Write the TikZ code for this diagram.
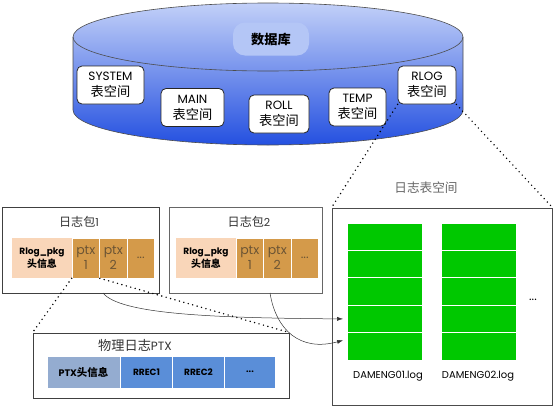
\documentclass[tikz,border=0pt]{standalone}
\usepackage{fontspec}
\setmainfont{Poppins}
\newfontfamily\cjk{Noto Sans CJK SC}[Scale=1.1]
\usetikzlibrary{arrows.meta,calc}
\definecolor{cylTop}{HTML}{C2D0F8}
\definecolor{cylBot}{HTML}{2450E0}
\definecolor{pill}{HTML}{B4C6F6}
\definecolor{peach}{HTML}{F9D6B9}
\definecolor{gold}{HTML}{D49A4A}
\definecolor{ptxtxt}{HTML}{6B5434}
\definecolor{grayblue}{HTML}{94ACD0}
\definecolor{rblue}{HTML}{5A8ED8}
\definecolor{lgreen}{HTML}{00C800}
\begin{document}
\begin{tikzpicture}[x=1pt,y=-1pt,
  tsbox/.style={draw=black!85,fill=white,rounded corners=5pt,line width=0.8pt,minimum width=#1,minimum height=38pt,align=center,inner sep=1pt,font=\fontsize{12}{16}\selectfont},
  panel/.style={draw=black!75,line width=0.9pt,fill=white},
  hdr/.style={fill=peach,minimum width=60pt,minimum height=40pt,inner sep=0pt,align=center,font=\fontsize{9}{13}\selectfont\bfseries},
  ptxcell/.style={fill=gold,draw=white,line width=0.6pt,minimum width=27.5pt,minimum height=40pt,inner sep=0pt,align=center,text=ptxtxt,font=\fontsize{12.5}{15}\selectfont},
  rcell/.style={fill=rblue,draw=white,line width=0.6pt,minimum width=51.5pt,minimum height=32pt,inner sep=0pt,font=\fontsize{9}{10}\selectfont\bfseries},
  gcell/.style={fill=lgreen,draw=white,line width=0.8pt,minimum width=75pt,minimum height=27.4pt,inner sep=0pt},
  dots/.style={line width=1.6pt,line cap=round,dash pattern=on 0pt off 4.6pt},
  arr/.style={-{Latex[length=6pt,width=4pt]},line width=0.5pt,black!80}]
\useasboundingbox (0,0) rectangle (554,407);
% cylinder
\path[top color=cylTop,bottom color=cylBot,draw=black!70,line width=0.6pt]
  (73,37) -- (73,110) arc[start angle=180,end angle=0,x radius=195,y radius=35]
  -- (463,37) arc[start angle=360,end angle=180,x radius=195,y radius=34] -- cycle;
\draw[black!70,line width=0.6pt] (73,37) arc[start angle=180,end angle=0,x radius=195,y radius=34];
\node[fill=pill,rounded corners=12pt,minimum width=76pt,minimum height=33pt,font=\fontsize{12}{14}\selectfont\cjk\bfseries] (db) at (271,39) {数据库};
\node[tsbox=67pt] (sys) at (110.5,85) {SYSTEM\\{\cjk 表空间}};
\node[tsbox=63pt] (main) at (192.5,107.5) {MAIN\\{\cjk 表空间}};
\node[tsbox=60pt] (roll) at (279,114) {ROLL\\{\cjk 表空间}};
\node[tsbox=57pt] (temp) at (357.5,107) {TEMP\\{\cjk 表空间}};
\node[tsbox=58pt] (rlog) at (427,85) {RLOG\\{\cjk 表空间}};
% log tablespace
\node[panel,draw=black!70,minimum width=220pt,minimum height=197pt,inner sep=0pt] (lts) at (442,306.5) {};
\node[text=black!60,font=\fontsize{11.5}{14}\selectfont\cjk] (ltst) at (426,188) {日志表空间};
\foreach \r in {1,...,5}{
  \node[gcell] (ga\r) at (385,{223+27.4*(\r-0.5)}) {};
  \node[gcell] (gb\r) at (478.5,{223+27.4*(\r-0.5)}) {};
}
\node[font=\fontsize{12}{14}\selectfont] (gdots) at (533,300) {...};
\node[font=\fontsize{10}{12}\selectfont] (d1) at (388,376) {DAMENG01.log};
\node[font=\fontsize{10}{12}\selectfont] (d2) at (478,376) {DAMENG02.log};
\draw[dots] (rlog.south west) -- (lts.north west);
\draw[dots] (rlog.south east) -- (lts.north east);
% package 1
\node[panel,minimum width=157pt,minimum height=86pt,inner sep=0pt] (pk1) at (80.5,250) {};
\node[text=black!80,font=\fontsize{11}{13}\selectfont] (pk1t) at (79,222) {{\cjk 日志包}1};
\node[hdr] (h1) at (42,258) {Rlog\_pkg\\{\cjk 头信息}};
\node[ptxcell] (pa1) at (85.75,258) {ptx\\1};
\node[ptxcell] (pa2) at (113.25,258) {ptx\\2};
\node[ptxcell] (pa3) at (140.75,258) {...};
% package 2
\node[panel,draw=black!60,minimum width=153pt,minimum height=86pt,inner sep=0pt] (pk2) at (245.5,250) {};
\node[text=black!80,font=\fontsize{11}{13}\selectfont] (pk2t) at (249,222) {{\cjk 日志包}2};
\node[hdr] (h2) at (206,258) {Rlog\_pkg\\{\cjk 头信息}};
\node[ptxcell] (pb1) at (249.75,258) {ptx\\1};
\node[ptxcell] (pb2) at (277.25,258) {ptx\\2};
\node[ptxcell] (pb3) at (304.75,258) {...};
% physical PTX
\node[panel,minimum width=256pt,minimum height=65pt,inner sep=0pt] (ptx) at (161,365.5) {};
\node[text=black!80,font=\fontsize{12}{14}\selectfont] (ptxt) at (135,345) {{\cjk 物理日志}PTX};
\node[rcell,fill=grayblue,minimum width=73pt,font=\fontsize{9.5}{10}\selectfont\bfseries] (ph) at (83.5,372) {PTX{\cjk 头信息}};
\node[rcell] (r1) at (146.5,372) {RREC1};
\node[rcell] (r2) at (198.5,372) {RREC2};
\node[rcell] (r3) at (250,372) {...};
\draw[dots] (pa1.south west) -- (ptx.north west);
\draw[dots] (pa1.south east) -- (ptx.north east);
% arrows
\coordinate (s1) at (103,293);
\coordinate (s2) at (270,293);
\draw[arr] (s1) .. controls (120,314) and (210,318) .. ([xshift=-4pt]ga4.west);
\draw[arr] (s2) .. controls (276,330) and (300,352) .. ([xshift=-4pt,yshift=6pt]ga5.west);
\end{tikzpicture}
\end{document}
